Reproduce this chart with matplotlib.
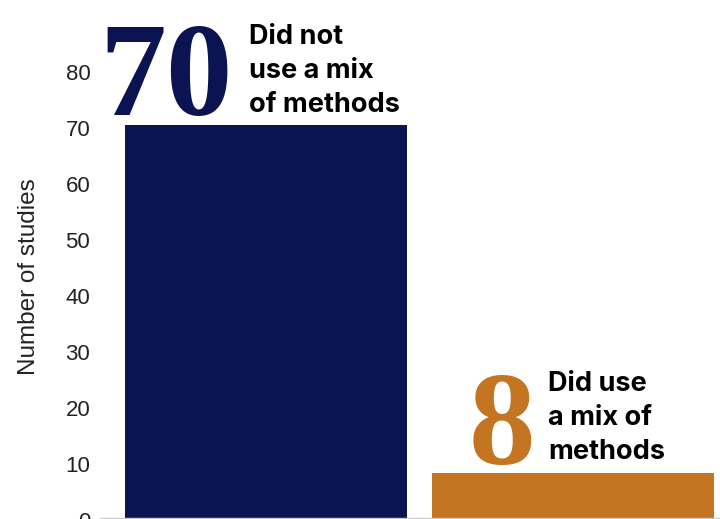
import matplotlib
matplotlib.use("Agg")
import matplotlib.pyplot as plt
from matplotlib.transforms import ScaledTranslation

# Datos del gráfico
categorias = ["Did not\nuse a mix\nof methods", "Did use\na mix of\nmethods"]
valores = [70, 8]
ticks_y = [0, 10, 20, 30, 40, 50, 60, 70, 80]
colores = ["#0B1352", "#C37522"]

fig = plt.figure(figsize=(7.2, 5.19), dpi=100)
# ejes casi a sangre: el 0 queda cortado abajo como en la imagen original
ax = fig.add_axes([100 / 720, 1.5 / 519, 620 / 720, 517.5 / 519])

x = range(len(valores))
ax.bar(x, valores, width=0.919, color=colores)

ax.set_xlim(-0.541, 1.479)
ax.set_ylim(0, 92.3)
ax.set_yticks(ticks_y)
ax.set_yticklabels([str(t) for t in ticks_y], fontsize=16,
                   family="Liberation Sans", color="#222222")
ax.set_xticks([])
ax.tick_params(axis="y", length=0, pad=7)
# las etiquetas del eje van un poco más abajo en el original
for lbl in ax.get_yticklabels():
    lbl.set_transform(lbl.get_transform() + ScaledTranslation(0, -3 / 100, fig.dpi_scale_trans))

for s in ["top", "right", "left"]:
    ax.spines[s].set_visible(False)
ax.spines["bottom"].set_color("#cccccc")
ax.spines["bottom"].set_linewidth(1)

ax.set_ylabel("Number of studies", fontsize=17.5, family="Liberation Sans",
              color="#222222")
ax.yaxis.set_label_coords(-0.097, 0.465)

# desplazamientos (en px) del número grande y del texto respecto al centro de la barra
off_num = [(-33, 10), (-38, 9)]
off_txt = [(-17, 13), (-25, 14)]

for i, v in enumerate(valores):
    ax.annotate(str(v), xy=(i, v), xytext=(off_num[i][0] * 0.72, off_num[i][1] * 0.72),
                textcoords="offset points", ha="right", va="baseline",
                fontsize=96, family="Liberation Serif", fontweight="bold",
                color=colores[i])
    ax.annotate(categorias[i], xy=(i, v), xytext=(off_txt[i][0] * 0.72, off_txt[i][1] * 0.72),
                textcoords="offset points", ha="left", va="baseline",
                fontsize=19.5, family="Inter", fontweight="bold", color="black",
                linespacing=1.4)

fig.savefig("out.png", dpi=100)
